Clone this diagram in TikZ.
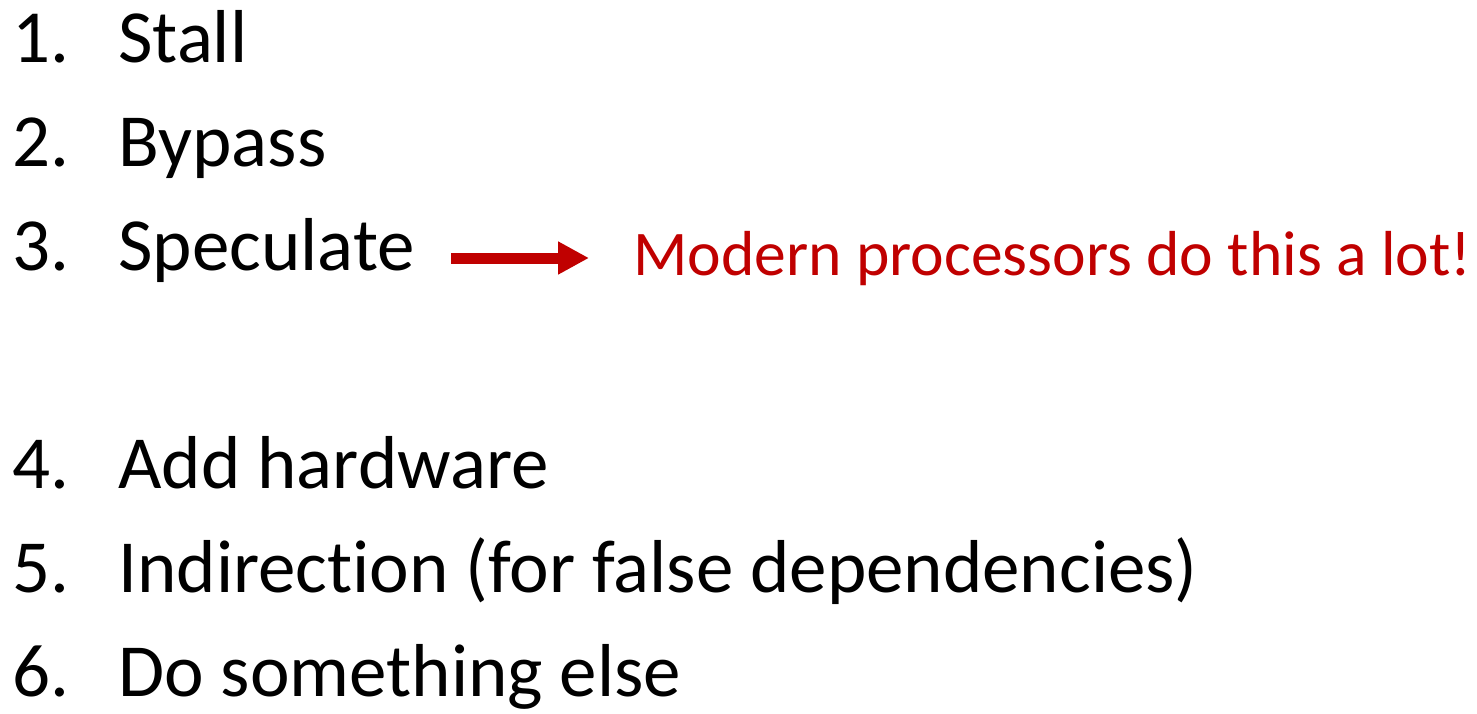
\documentclass[tikz,border=0pt]{standalone}
\usepackage{fontspec}
\setmainfont{Carlito}[Ligatures=NoCommon]
\usetikzlibrary{arrows.meta}
\definecolor{notered}{HTML}{C00000}
\begin{document}
\begin{tikzpicture}[x=0.5pt, y=-0.5pt,
  item/.style={anchor=base west, inner sep=0pt, font=\fontsize{37.5}{45}\selectfont},
  note/.style={anchor=base west, inner sep=0pt, text=notered, font=\fontsize{31.8}{38}\selectfont}]
\useasboundingbox (0,0) rectangle (1477,713);
\node (1)[item] at (12,62) {\makebox[53pt][l]{1.}Stall};
\node (2)[item] at (12,166) {\makebox[53pt][l]{2.}Bypass};
\node (3)[item] at (12,270) {\makebox[53pt][l]{3.}Speculate};
\node (4)[item] at (12,488) {\makebox[53pt][l]{4.}Add hardware};
\node (5)[item] at (12,592) {\makebox[53pt][l]{5.}Indirection (for false dependencies)};
\node (6)[item] at (12,696) {\makebox[53pt][l]{6.}Do something else};
\node (7)[note] at (633,275) {Modern processors do this a lot!};
\coordinate (a) at ([xshift=18pt,yshift=6pt]3.base east);
\draw[notered, line width=5.5pt, -{Triangle[length=15.5pt, width=15.5pt]}] (a) -- ([xshift=-22pt]7.west |- a);
\end{tikzpicture}
\end{document}
